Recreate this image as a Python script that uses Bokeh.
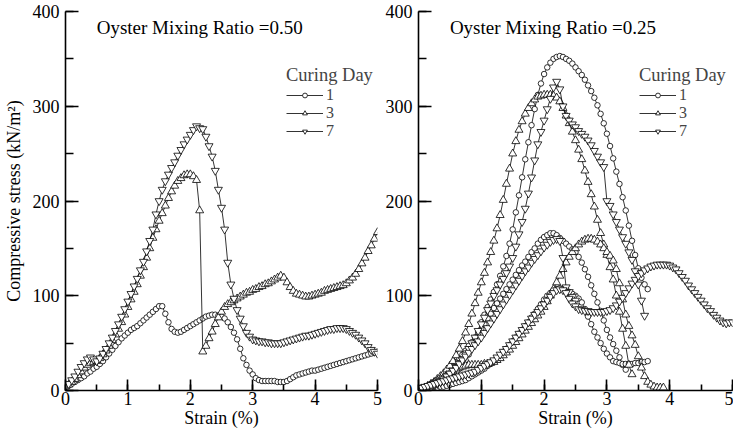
from bokeh.plotting import figure
from bokeh.layouts import row
from bokeh.models import (Range1d, SingleIntervalTicker, Legend, LegendItem, Label)
from bokeh.embed import file_html
from bokeh.resources import INLINE

STEP = 0.05  # strain sampling interval (%)

# ---------------- Left panel: Oyster Mixing Ratio = 0.50 ----------------
left_day1 = [4, 5, 7, 9, 11, 13, 15, 18, 20, 23, 25, 28, 31, 35, 39, 43, 47, 51, 55, 58,
             61, 64, 66, 68, 71, 74, 77, 80, 83, 86, 89, 89, 81, 72, 65, 62, 61, 62, 64, 66,
             68, 70, 72, 74, 76, 78, 79, 80, 80, 79, 78, 76, 72, 67, 61, 54, 44, 34, 27, 21,
             17, 13, 11, 10, 10, 10, 10, 10, 9, 9, 9, 10, 12, 14, 16, 17, 18, 19, 20, 21,
             21, 22, 23, 24, 25, 26, 27, 28, 29, 30, 31, 32, 33, 34, 35, 36, 37, 38, 39, 40, 41]
left_day3 = [4, 6, 9, 12, 16, 20, 24, 27, 29, 30, 31, 34, 38, 42, 47, 53, 59, 65, 72, 80,
             88, 96, 104, 112, 121, 130, 140, 150, 161, 170, 179, 187, 195, 203, 210, 216, 221, 224, 227, 228,
             228, 226, 222, 190, 41, 47, 55, 62, 70, 77, 83, 88, 91, 93, 95, 97, 99, 101, 103, 104,
             106, 107, 109, 110, 112, 113, 115, 117, 119, 121, 119, 114, 109, 105, 102, 101, 100, 99, 99, 100,
             101, 102, 103, 105, 106, 107, 108, 109, 110, 111, 113, 116, 119, 123, 128, 134, 140, 147, 153, 160, 167]
left_day7 = [4, 7, 11, 15, 20, 25, 29, 33, 35, 33, 31, 34, 39, 44, 50, 56, 63, 70, 78, 86,
             94, 102, 110, 118, 127, 136, 147, 158, 170, 186, 200, 212, 221, 228, 235, 241, 248, 254, 260, 265,
             270, 275, 279, 277, 276, 268, 258, 247, 232, 212, 193, 170, 135, 112, 97, 85, 76, 68, 61, 57,
             54, 53, 52, 52, 51, 51, 50, 50, 50, 50, 51, 52, 53, 54, 55, 56, 57, 58, 58, 59,
             60, 61, 62, 63, 64, 65, 65, 66, 66, 66, 65, 63, 61, 59, 56, 53, 50, 46, 43, 41, 39]

# ---------------- Right panel: Oyster Mixing Ratio = 0.25 ----------------
right_day1_a = [1, 1, 2, 2, 3, 4, 5, 7, 9, 11, 13, 16, 19, 23, 27, 32, 38, 45, 53, 62,
                72, 80, 88, 96, 104, 112, 121, 131, 142, 155, 170, 188, 206, 225, 244, 262, 280, 297, 312, 324,
                334, 341, 346, 350, 352, 353, 352, 350, 348, 345, 341, 337, 333, 328, 322, 316, 309, 301, 292, 282,
                271, 258, 245, 231, 218, 204, 190, 174, 158, 143, 129, 119, 112, 107]
right_day1_b = [1, 2, 3, 5, 7, 9, 11, 13, 16, 19, 22, 26, 30, 34, 38, 42, 47, 51, 56, 60,
                65, 70, 76, 81, 87, 92, 97, 102, 107, 112, 117, 122, 127, 132, 136, 141, 146, 150, 155, 159,
                162, 164, 166, 166, 164, 161, 158, 155, 152, 149, 146, 141, 135, 128, 120, 111, 102, 93, 84, 74,
                64, 56, 49, 42, 35, 27, 22]
right_day1_c = [0, 1, 1, 2, 2, 3, 3, 4, 4, 5, 6, 7, 8, 9, 10, 11, 13, 15, 17, 19,
                21, 23, 26, 28, 31, 34, 37, 41, 44, 48, 52, 56, 60, 64, 68, 72, 77, 81, 86, 91,
                96, 100, 103, 106, 107, 108, 107, 106, 104, 102, 100, 97, 93, 86, 78, 70, 62, 56, 50, 44,
                39, 35, 31, 30, 29, 28, 28, 28, 28, 29, 29, 30, 30, 31]
right_day3_a = [1, 2, 3, 5, 7, 9, 12, 15, 18, 22, 26, 31, 37, 44, 52, 61, 70, 81, 92, 103,
                114, 124, 135, 146, 158, 171, 185, 201, 218, 234, 250, 263, 275, 284, 292, 298, 303, 307, 310, 311,
                312, 312, 312, 311, 309, 305, 298, 290, 282, 273, 264, 254, 244, 232, 220, 207, 194, 180, 166, 154,
                143, 130, 117, 100, 83, 65, 47, 27, 17]
right_day3_b = [1, 2, 3, 4, 6, 8, 10, 12, 14, 16, 18, 20, 22, 24, 25, 26, 27, 27, 27, 27,
                27, 28, 28, 29, 30, 32, 34, 37, 40, 43, 47, 51, 55, 59, 63, 67, 71, 75, 79, 83,
                88, 94, 100, 107, 114, 121, 128, 135, 141, 146, 150, 154, 157, 159, 160, 160, 159, 157, 154, 150,
                146, 142, 137, 128, 113, 96, 80, 68, 58, 48, 36, 24, 15, 9, 6, 4, 3, 3, 3]
right_day7_a = [1, 1, 2, 3, 4, 5, 7, 9, 11, 14, 17, 21, 25, 29, 33, 38, 44, 50, 56, 63,
                70, 77, 85, 92, 100, 106, 112, 118, 124, 131, 140, 152, 165, 178, 192, 208, 225, 243, 260, 273,
                285, 297, 308, 320, 326, 318, 300, 290, 285, 281, 278, 274, 271, 268, 264, 259, 253, 247, 241, 236,
                200, 195, 186, 178, 170, 162, 155, 146, 138, 126, 112, 95, 79]
right_day7_b = [1, 1, 2, 3, 4, 6, 8, 10, 12, 15, 18, 21, 24, 28, 32, 36, 40, 44, 48, 52,
                56, 61, 66, 71, 76, 81, 86, 91, 96, 101, 106, 111, 116, 121, 126, 130, 135, 139, 143, 147,
                151, 154, 157, 159, 160, 158, 140, 109, 104, 99, 95]
right_day7_c = [2, 3, 4, 5, 6, 7, 8, 9, 10, 11, 12, 13, 14, 15, 16, 17, 18, 19, 20, 22,
                24, 26, 28, 30, 32, 35, 38, 41, 44, 48, 52, 56, 60, 64, 68, 72, 76, 80, 83, 87,
                91, 95, 99, 103, 106, 107, 106, 103, 97, 92, 89, 86, 85, 84, 84, 83, 83, 83, 83, 83,
                84, 85, 87, 90, 94, 98, 103, 108, 113, 117, 121, 124, 127, 129, 131, 132, 133, 133, 133, 133,
                132, 130, 128, 124, 120, 116, 111, 107, 103, 99, 95, 91, 87, 84, 80, 77, 74, 72, 71, 72, 72]

FONT = "Liberation Serif"
MARKER = {"1": ("circle", 5.5), "3": ("triangle", 8), "7": ("inverted_triangle", 8)}


def strain_of(vals):
    return [round(i * STEP, 2) for i in range(len(vals))]


def make_panel(title, series, width, border_left, border_right, show_ylabel, legend_xy):
    p = figure(width=width, height=430, output_backend="svg", toolbar_location=None,
               x_range=Range1d(0, 5), y_range=Range1d(0, 400),
               min_border_left=border_left, min_border_right=border_right,
               min_border_top=11, min_border_bottom=40)
    p.outline_line_color = None
    p.xgrid.visible = False
    p.ygrid.visible = False
    p.background_fill_color = "white"

    p.xaxis.ticker = SingleIntervalTicker(interval=1, num_minor_ticks=2)
    p.yaxis.ticker = SingleIntervalTicker(interval=100, num_minor_ticks=2)
    for ax in (p.xaxis, p.yaxis):
        ax.axis_line_width = 1.6
        ax.major_tick_line_width = 1.6
        ax.minor_tick_line_width = 1.6
        ax.major_tick_out = 0
        ax.minor_tick_out = 0
        ax.major_label_text_font = FONT
        ax.major_label_text_font_size = "18px"
        ax.major_label_text_color = "black"
        ax.axis_label_text_font = FONT
        ax.axis_label_text_font_size = "18px"
        ax.axis_label_text_font_style = "normal"
        ax.axis_label_text_color = "black"
    p.xaxis.major_tick_in = 11
    p.xaxis.minor_tick_in = 6
    p.yaxis.major_tick_in = 13
    p.yaxis.minor_tick_in = 8
    p.xaxis.major_label_standoff = 1
    p.xaxis.axis_label_standoff = 0
    p.yaxis.major_label_standoff = 6
    p.xaxis.axis_label = "Strain (%)"
    if show_ylabel:
        p.yaxis.axis_label = "Compressive stress (kN/m²)"
        p.yaxis.axis_label_standoff = 6

    legend_refs = {}
    for day, vals in series:
        xs = strain_of(vals)
        ln = p.line(xs, vals, line_color="black", line_width=0.8)
        mk, sz = MARKER[day]
        sc = p.scatter(xs, vals, marker=mk, size=sz, fill_color="white",
                       line_color="black", line_width=0.8)
        if day not in legend_refs:
            legend_refs[day] = [ln, sc]

    items = [LegendItem(label=d, renderers=legend_refs[d]) for d in ("1", "3", "7")]
    legend = Legend(items=items, title="Curing Day", location=legend_xy,
                    title_text_font=FONT, title_text_font_size="18.5px",
                    title_text_font_style="normal", title_standoff=0,
                    label_text_font=FONT, label_text_font_size="16px",
                    glyph_width=37, glyph_height=12, label_height=12,
                    label_standoff=3, spacing=0, padding=0, margin=0,
                    background_fill_alpha=0, border_line_color=None)
    p.add_layout(legend)

    p.add_layout(Label(x=0.5, y=383, text=title, text_font=FONT,
                       text_font_size="19px", text_baseline="alphabetic",
                       text_color="black"))
    return p


left_series = [("1", left_day1), ("3", left_day3), ("7", left_day7)]
right_series = [("1", right_day1_a), ("1", right_day1_b), ("1", right_day1_c),
                ("3", right_day3_a), ("3", right_day3_b),
                ("7", right_day7_a), ("7", right_day7_b), ("7", right_day7_c)]

p1 = make_panel("Oyster Mixing Ratio =0.50", left_series, 382, 58, 5, True, (221, 250))
p2 = make_panel("Oyster Mixing Ratio =0.25", right_series, 351, 31, 1, False, (221, 250))

layout = row(p1, p2)
open("out.html", "w").write(file_html(layout, INLINE))
